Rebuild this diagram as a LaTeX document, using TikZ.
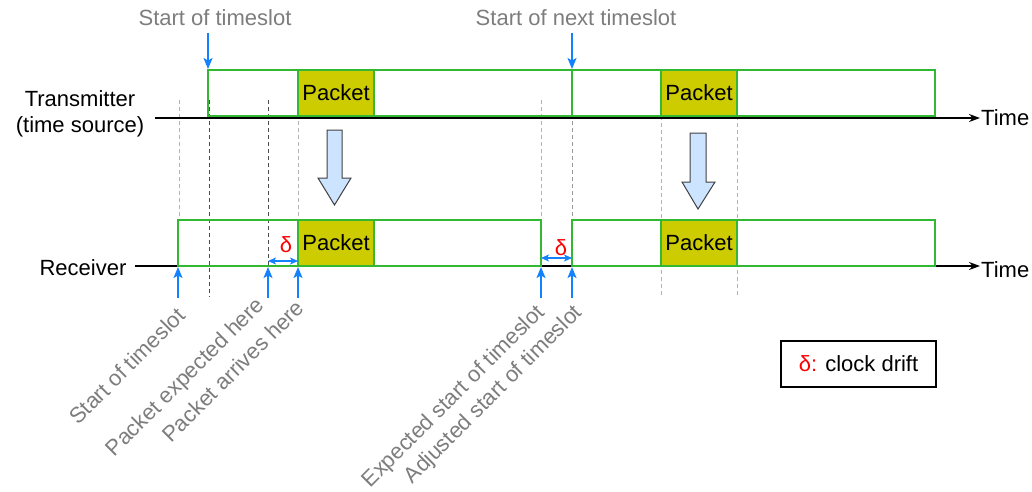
\documentclass[tikz,border=0pt]{standalone}
\usepackage{fontspec}
\setmainfont{Liberation Sans}
\usetikzlibrary{arrows.meta}
\definecolor{slotgreen}{RGB}{51,184,51}
\definecolor{packetfill}{RGB}{204,204,0}
\definecolor{arrowblue}{RGB}{20,130,255}
\definecolor{bigfill}{RGB}{204,228,255}
\definecolor{labelgray}{RGB}{125,125,125}
\begin{document}
\begin{tikzpicture}[x=1pt,y=-1pt,
  font=\fontsize{22}{26}\selectfont,
  lightdash/.style={draw=gray!60, line width=0.9pt, dash pattern=on 4pt off 3pt},
  darkdash/.style={draw=black!70, line width=0.9pt, dash pattern=on 4pt off 3pt},
  middash/.style={draw=gray!80, line width=0.9pt, dash pattern=on 4pt off 3pt},
  timeline/.style={draw=black, line width=1.4pt, -{Stealth[length=11pt,width=8pt]}},
  slotbox/.style={draw=slotgreen, line width=1.6pt},
  packet/.style={draw=slotgreen, line width=1.6pt, fill=packetfill, minimum width=76pt, minimum height=46pt, inner sep=0pt},
  bluearrow/.style={draw=arrowblue, line width=1.5pt, -{Stealth[length=11pt,width=9pt,inset=2.5pt]}},
  driftarrow/.style={draw=arrowblue, line width=1.2pt, {Stealth[length=8pt,width=7pt,inset=2pt]}-{Stealth[length=8pt,width=7pt,inset=2pt]}},
  bigarrow/.style={draw=black!75, line width=1pt, fill=bigfill},
  toplabel/.style={text=labelgray},
  rotlabel/.style={text=labelgray, rotate=45},
  timelabel/.style={anchor=west, inner sep=1pt},
  deltalabel/.style={text=red}
]
\useasboundingbox (0,0) rectangle (1032,491);

% dashed guide lines
\draw[lightdash] (179,100) -- (179,220);
\draw[darkdash] (209,100) -- (209,297);
\draw[darkdash] (268,100) -- (268,266);
\draw[lightdash] (298,100) -- (298,220);
\draw[lightdash] (541,100) -- (541,220);
\draw[middash] (572,100) -- (572,266);
\draw[lightdash] (661,116) -- (661,297);
\draw[lightdash] (737,116) -- (737,297);

% transmitter
\node (tx) at (80,114) [align=center] {Transmitter\\(time source)};
\coordinate (tx0) at (155,118);
\node[timelabel] (txtime) at (980,118) {Time};
\draw[slotbox] (208,70) rectangle (572,116);
\draw[slotbox] (572,70) rectangle (935,116);
\node[packet] (tp1) at (336,93) {Packet};
\node[packet] (tp2) at (699,93) {Packet};
\draw[timeline] (tx0) -- (txtime.west |- tx0);

% receiver
\node (rx) at (83,268) {Receiver};
\node[timelabel] (rxtime) at (980,270) {Time};
\coordinate (rx0) at (135,266);
\draw[timeline] (rx0) -- (rxtime.west |- rx0);
\draw[slotbox] (178,220) rectangle (541,266);
\draw[slotbox] (572,220) rectangle (935,266);
\node[packet] (rp1) at (336,243) {Packet};
\node[packet] (rp2) at (699,243) {Packet};

% big arrows
\draw[bigarrow] (327,130) -- (342,130) -- (342,178) -- (351,178) -- (334.5,205) -- (318,178) -- (327,178) -- cycle;
\draw[bigarrow] (690,133) -- (706,133) -- (706,182) -- (715,182) -- (698,209) -- (682,182) -- (690,182) -- cycle;

% top labels
\node[toplabel] (ts1) at (215,18) {Start of timeslot};
\node[toplabel] (ts2) at (576,18) {Start of next timeslot};
\coordinate (ts1a) at (208,33); \coordinate (ts1b) at (208,69);
\coordinate (ts2a) at (572,33); \coordinate (ts2b) at (572,69);
\draw[bluearrow] (ts1a) -- (ts1b);
\draw[bluearrow] (ts2a) -- (ts2b);

% bottom arrows
\foreach \x/\n in {178/ba, 268/bb, 298/bc, 541/bd, 572/be} {
  \coordinate (\n0) at (\x,298);
  \coordinate (\n1) at (\x,267);
  \draw[bluearrow] (\n0) -- (\n1);
}

% drift arrows
\coordinate (d1a) at (268,261); \coordinate (d1b) at (298,261);
\draw[driftarrow] (d1a) -- (d1b);
\node[deltalabel] (d1) at (286,245) {δ};
\coordinate (d2a) at (541,258); \coordinate (d2b) at (572,258);
\draw[driftarrow] (d2a) -- (d2b);
\node[deltalabel] (d2) at (561,248) {δ};

% rotated labels
\node[rotlabel] (r1) at (127,366) {Start of timeslot};
\node[rotlabel] (r2) at (186,378) {Packet expected here};
\node[rotlabel] (r3) at (233,371) {Packet arrives here};
\node[rotlabel] (r4) at (454,397) {Expected start of timeslot};
\node[rotlabel] (r5) at (494,395) {Adjusted start of timeslot};

% legend
\node[draw, line width=1.3pt, minimum width=155pt, minimum height=46pt] (legend) at (858.5,364) {\textcolor{red}{δ:} clock drift};
\end{tikzpicture}
\end{document}
